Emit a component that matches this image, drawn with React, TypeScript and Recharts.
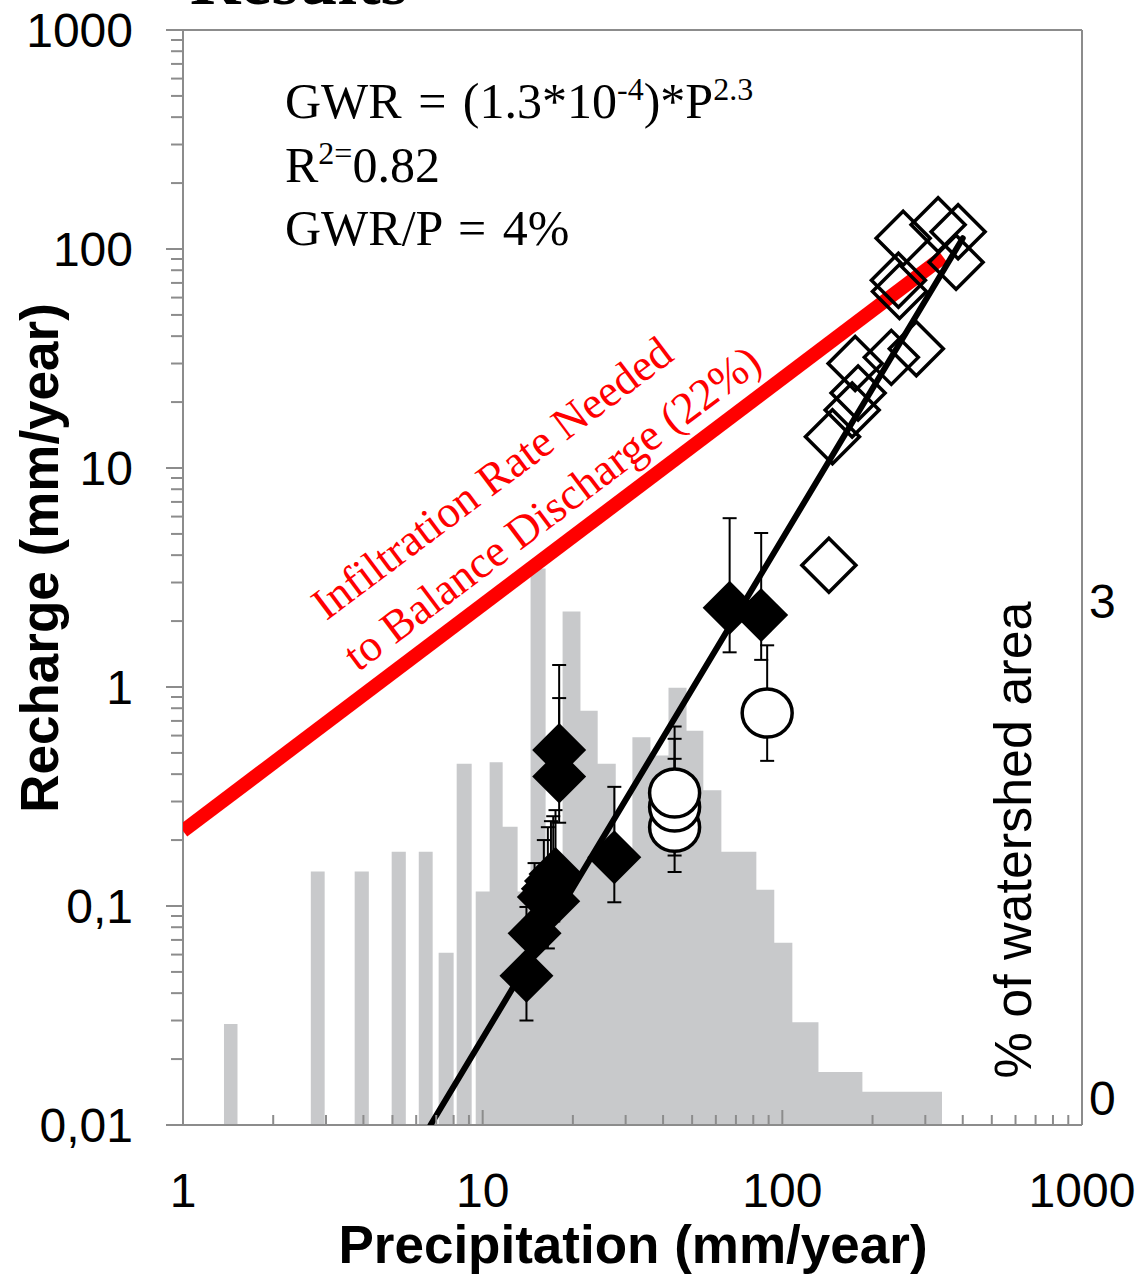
import React from 'react';
import { ComposedChart, XAxis, YAxis, Scatter, Area, ErrorBar, ReferenceLine } from 'recharts';

// ---------- data ----------
// histogram of watershed area (% of area) per precipitation bin (mm/year)
const binLeft = [1.37, 2.67, 3.74, 4.97, 6.12, 7.13, 8.19, 9.48, 10.55, 11.66, 13.08, 14.45, 16.22, 18.48, 21.2, 24.2, 27.8, 31.6, 36.3, 41.7, 47.9, 54.5, 62.6, 81.9, 94.0, 108, 132, 185];
const binRight = [1.52, 2.97, 4.17, 5.54, 6.81, 8.0, 9.19, 10.55, 11.66, 13.08, 14.45, 16.22, 18.48, 21.2, 24.2, 27.8, 31.6, 36.3, 41.7, 47.9, 54.5, 62.6, 81.9, 94.0, 108, 132, 185, 341];
const binPercent = [0.61, 1.53, 1.53, 1.65, 1.65, 1.04, 2.18, 1.41, 2.19, 1.8, 1.41, 3.36, 1.41, 3.1, 2.5, 2.18, 1.66, 2.34, 2.23, 2.64, 2.38, 2.02, 1.65, 1.42, 1.1, 0.62, 0.32, 0.2];

// filled diamonds (with error bars)
const filledP = [14.0, 14.9, 16.0, 16.5, 16.9, 17.2, 17.5, 18.0, 18.0, 27.5, 66.7, 85];
const filledR = [0.048, 0.075, 0.11, 0.12, 0.13, 0.105, 0.14, 0.39, 0.515, 0.167, 2.3, 2.13];
const filledLo = [0.03, 0.062, 0.08, 0.064, 0.09, 0.085, 0.11, 0.24, 0.4, 0.104, 1.44, 1.33];
const filledHi = [0.099, 0.157, 0.2, 0.229, 0.244, 0.257, 0.274, 0.89, 1.26, 0.35, 5.9, 5.05];

// open circles (with error bars)
const circP = [43.7, 43.7, 43.7, 89];
const circR = [0.229, 0.283, 0.328, 0.76];
const circLo = [0.143, 0.17, 0.2, 0.46];
const circHi = [0.47, 0.58, 0.66, 1.55];

// open diamonds
const openP = [253, 331, 386, 380, 244, 246, 175, 231, 280, 179, 171, 147, 143];
const openR = [112, 129, 120, 87, 72, 64, 30, 32, 35, 22, 18.4, 13.9, 3.6];

// lines (endpoints)
const fitP = [6.7, 400];
const fitR = [0.01, 112];
const needP = [1, 344];
const needR = [0.22, 92];

// axis ticks
const xMajor = [1, 10, 100, 1000];
const xMajorLabels = ['1', '10', '100', '1000'];
const yMajor = [0.01, 0.1, 1, 10, 100, 1000];
const yMajorLabels = ['0,01', '0,1', '1', '10', '100', '1000'];
const minorMult = [1, 2, 3, 4, 5, 6, 7, 8, 9];
const rightTicks = [0, 3];
const rightLabels = ['0', '3'];

// ---------- derived ----------
const histData = binLeft.flatMap((l, i) => [
  { x: l, h: binPercent[i] },
  { x: binRight[i], h: 0 },
]);
const filledData = filledP.map((x, i) => ({ x, y: filledR[i], err: [filledR[i] - filledLo[i], filledHi[i] - filledR[i]] }));
const circData = circP.map((x, i) => ({ x, y: circR[i], err: [circR[i] - circLo[i], circHi[i] - circR[i]] }));
const openData = openP.map((x, i) => ({ x, y: openR[i] }));
const fitData = fitP.map((x, i) => ({ x, y: fitR[i] }));
const needData = needP.map((x, i) => ({ x, y: needR[i] }));

const xTicks = [...xMajor.slice(0, 3).flatMap((d) => minorMult.map((m) => +(d * m).toPrecision(3))), 1000];
const yTicks = [...yMajor.slice(0, 5).flatMap((d) => minorMult.map((m) => +(d * m).toPrecision(3))), 1000];

const SANS = "'Liberation Sans', Arial, sans-serif";
const SERIF = "'Liberation Serif', 'Times New Roman', serif";
const AXIS = '#8c8c8c';
const GRAY = '#c8c9cb';
const D = 27;

const findIdx = (arr: number[], v: number) => arr.findIndex((a) => Math.abs(a - v) / a < 1e-6);

const LeftTick = (props: any) => {
  const { x, y, payload } = props;
  const i = findIdx(yMajor, payload.value);
  const major = i >= 0;
  return (
    <g>
      <line x1={x - (major ? 17 : 12)} x2={x} y1={y} y2={y} stroke={AXIS} strokeWidth={2} />
      {major && (
        <text x={x - 50} y={y + 17} textAnchor="end" fontSize={48} fontFamily={SANS} fill="#000">
          {yMajorLabels[i]}
        </text>
      )}
    </g>
  );
};

const BottomTick = (props: any) => {
  const { x, y, payload } = props;
  const i = findIdx(xMajor, payload.value);
  const major = i >= 0;
  return (
    <g>
      <line x1={x} x2={x} y1={y} y2={y - (major ? 15 : 10)} stroke={AXIS} strokeWidth={2} />
      {major && (
        <text x={x} y={y + 82} textAnchor="middle" fontSize={48} fontFamily={SANS} fill="#000">
          {xMajorLabels[i]}
        </text>
      )}
    </g>
  );
};

const RightTick = (props: any) => {
  const { x, y, payload } = props;
  const i = rightTicks.indexOf(payload.value);
  return (
    <text x={x + 7} y={y - 10} textAnchor="start" fontSize={48} fontFamily={SANS} fill="#000">
      {rightLabels[i]}
    </text>
  );
};

const FilledDiamond = (p: any) => (
  <polygon points={`${p.cx},${p.cy - D} ${p.cx + D},${p.cy} ${p.cx},${p.cy + D} ${p.cx - D},${p.cy}`} fill="#000" />
);
const OpenDiamond = (p: any) => (
  <polygon
    points={`${p.cx},${p.cy - D} ${p.cx + D},${p.cy} ${p.cx},${p.cy + D} ${p.cx - D},${p.cy}`}
    fill="none"
    stroke="#000"
    strokeWidth={3.5}
  />
);
const OpenCircle = (p: any) => <ellipse cx={p.cx} cy={p.cy} rx={25} ry={24} fill="#fff" stroke="#000" strokeWidth={3.5} />;
const NoShape = () => <g />;

export default function App() {
  return (
    <div style={{ position: 'absolute', left: 0, top: 0, width: 1144, height: 1274, background: '#fff' }}>
      <ComposedChart width={1144} height={1274} data={histData} margin={{ top: 30, right: 0, bottom: 0, left: 0 }}>
        <XAxis
          dataKey="x"
          type="number"
          scale="log"
          domain={[1, 1000]}
          ticks={xTicks}
          interval={0}
          allowDataOverflow
          height={149}
          tickSize={0}
          tickMargin={0}
          tick={<BottomTick />}
          axisLine={{ stroke: AXIS, strokeWidth: 2 }}
          tickLine={false}
        />
        <YAxis
          yAxisId="left"
          dataKey="y"
          type="number"
          scale="log"
          domain={[0.01, 1000]}
          ticks={yTicks}
          interval={0}
          allowDataOverflow
          width={183}
          tickSize={0}
          tickMargin={0}
          tick={<LeftTick />}
          axisLine={{ stroke: AXIS, strokeWidth: 2 }}
          tickLine={false}
        />
        <YAxis
          yAxisId="right"
          orientation="right"
          type="number"
          domain={[0, 6.61]}
          ticks={rightTicks}
          interval={0}
          allowDataOverflow
          width={62}
          tickSize={0}
          tickMargin={0}
          tick={<RightTick />}
          axisLine={{ stroke: AXIS, strokeWidth: 2 }}
          tickLine={false}
        />
        <ReferenceLine yAxisId="left" y={1000} stroke={AXIS} strokeWidth={2} />
        <Area
          yAxisId="right"
          dataKey="h"
          type="stepAfter"
          fill={GRAY}
          fillOpacity={1}
          stroke="none"
          isAnimationActive={false}
          dot={false}
          activeDot={false}
        />
        <Scatter
          yAxisId="left"
          data={needData}
          line={{ stroke: '#ff0000', strokeWidth: 14 }}
          shape={<NoShape />}
          isAnimationActive={false}
        />
        <Scatter yAxisId="left" data={filledData} shape={<FilledDiamond />} isAnimationActive={false}>
          <ErrorBar dataKey="err" direction="y" width={7} stroke="#000" strokeWidth={2} />
        </Scatter>
        <Scatter yAxisId="left" data={circData} shape={<OpenCircle />} isAnimationActive={false}>
          <ErrorBar dataKey="err" direction="y" width={7} stroke="#000" strokeWidth={2} />
        </Scatter>
        <Scatter yAxisId="left" data={openData} shape={<OpenDiamond />} isAnimationActive={false} />
        <Scatter
          yAxisId="left"
          data={fitData}
          line={{ stroke: '#000', strokeWidth: 6, strokeLinecap: 'round' }}
          shape={<NoShape />}
          isAnimationActive={false}
        />
      </ComposedChart>
      <svg width={1144} height={1274} style={{ position: 'absolute', left: 0, top: 0, pointerEvents: 'none' }}>
        <text x={190} y={4} fontSize={70} fontWeight="bold" fontFamily={SERIF} fill="#000">Results</text>
        <g fontFamily={SERIF} fontSize={50} fill="#000" style={{ wordSpacing: '4px' }}>
          <text x={285} y={118}>
            GWR = (1.3*10<tspan dy={-18} fontSize={32}>-4</tspan>
            <tspan dy={18}>)*P</tspan>
            <tspan dy={-18} fontSize={32}>2.3</tspan>
          </text>
          <text x={285} y={182}>
            R<tspan dy={-18} fontSize={32}>2=</tspan>
            <tspan dy={18}>0.82</tspan>
          </text>
          <text x={285} y={245}>GWR/P = 4%</text>
        </g>
        <g fontFamily={SERIF} fontSize={45} fill="#ff0000" textAnchor="middle">
          <text x={501} y={490} transform="rotate(-36.9 501 490)">Infiltration Rate Needed</text>
          <text x={561} y={520} transform="rotate(-36.9 561 520)">to Balance Discharge (22%)</text>
        </g>
        <text
          x={58}
          y={558}
          transform="rotate(-90 58 558)"
          textAnchor="middle"
          fontFamily={SANS}
          fontWeight="bold"
          fontSize={53}
          fill="#000"
        >
          Recharge (mm/year)
        </text>
        <text x={633} y={1263} textAnchor="middle" fontFamily={SANS} fontWeight="bold" fontSize={53} fill="#000">
          Precipitation (mm/year)
        </text>
        <text
          x={1031}
          y={840}
          transform="rotate(-90 1031 840)"
          textAnchor="middle"
          fontFamily={SANS}
          fontSize={52}
          fill="#000"
        >
          % of watershed area
        </text>
      </svg>
    </div>
  );
}
